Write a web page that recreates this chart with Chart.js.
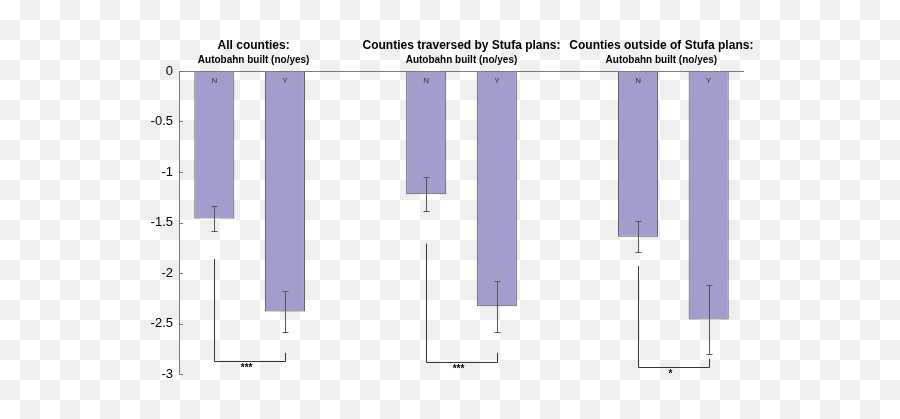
<!DOCTYPE html>
<html lang="en">
<head>
    <meta charset="UTF-8">
    <title>Autobahn built (no/yes)</title>
    <script src="https://cdn.jsdelivr.net/npm/chart.js"></script>
    <style>
        body {
            margin: 0;
            font-family: "Liberation Sans", Arial, sans-serif;
        }
        #wrap {
            width: 900px;
            height: 419px;
            background: conic-gradient(#efefef 0 25%, #fff 0 50%, #efefef 0 75%, #fff 0) 0 0 / 40px 40px;
        }
    </style>
</head>
<body>
    <div id="wrap">
        <canvas id="myChart" width="900" height="419"></canvas>
    </div>

    <script>
        // bars: N / Y per group, empty slots between groups
        const barLabels = ['N', 'Y', '', 'N', 'Y', '', 'N', 'Y'];
        const meanValues = [-1.46, -2.38, null, -1.22, -2.33, null, -1.64, -2.46];
        const errValues = [0.12, 0.2, null, 0.17, 0.25, null, 0.155, 0.34];

        const groupTitles = ['All counties:', 'Counties traversed by Stufa plans:', 'Counties outside of Stufa plans:'];
        const groupSubtitle = 'Autobahn built (no/yes)';

        // significance brackets (value where each line ends)
        const bracketLeftTop = [-1.86, -1.71, -1.93];
        const bracketRightTop = [-2.79, -2.79, -2.85];
        const bracketBottom = [-2.87, -2.88, -2.93];
        const sigLabels = ['***', '***', '*'];

        const yTickValues = [0, -0.5, -1, -1.5, -2, -2.5, -3];
        const yTickLabels = ['0', '-0.5', '-1', '-1.5', '-2', '-2.5', '-3'];

        const FONT = '"Liberation Sans", Arial, sans-serif';

        const overlay = {
            id: 'overlay',
            afterDatasetsDraw(chart) {
                const { ctx, chartArea, scales: { y } } = chart;
                const bars = chart.getDatasetMeta(0).data;
                ctx.save();

                // zero line + inward ticks
                ctx.strokeStyle = '#7a7a7a';
                ctx.lineWidth = 1;
                const y0 = Math.round(y.getPixelForValue(0)) + 0.5;
                ctx.beginPath();
                ctx.moveTo(chartArea.left, y0);
                ctx.lineTo(chartArea.right, y0);
                yTickValues.forEach(v => {
                    const py = Math.round(y.getPixelForValue(v)) + 0.5;
                    ctx.moveTo(chartArea.left, py);
                    ctx.lineTo(chartArea.left + 4, py);
                });
                ctx.stroke();

                // error bars
                ctx.strokeStyle = '#555';
                bars.forEach((bar, i) => {
                    if (meanValues[i] == null) return;
                    const cx = Math.round(bar.x) + 0.5;
                    const t = Math.round(y.getPixelForValue(meanValues[i] + errValues[i])) + 0.5;
                    const b = Math.round(y.getPixelForValue(meanValues[i] - errValues[i])) + 0.5;
                    ctx.beginPath();
                    ctx.moveTo(cx, t); ctx.lineTo(cx, b);
                    ctx.moveTo(cx - 3, t); ctx.lineTo(cx + 3, t);
                    ctx.moveTo(cx - 3, b); ctx.lineTo(cx + 3, b);
                    ctx.stroke();
                });

                // N / Y inside bars
                ctx.fillStyle = '#333';
                ctx.font = '8px ' + FONT;
                ctx.textAlign = 'center';
                ctx.textBaseline = 'middle';
                bars.forEach((bar, i) => {
                    if (meanValues[i] == null) return;
                    ctx.fillText(barLabels[i], bar.x, y.getPixelForValue(0) + 10);
                });

                // group titles + brackets
                const titleShift = [4, 0, -12];
                groupTitles.forEach((title, g) => {
                    const xl = bars[g * 3].x;
                    const xr = bars[g * 3 + 1].x;
                    const mid = (xl + xr) / 2;
                    ctx.fillStyle = '#000';
                    ctx.textAlign = 'center';
                    ctx.textBaseline = 'middle';
                    ctx.font = 'bold 12px ' + FONT;
                    ctx.fillText(title, mid + titleShift[g], 46);
                    ctx.font = 'bold 10px ' + FONT;
                    ctx.fillText(groupSubtitle, mid + titleShift[g], 60);

                    const lx = Math.round(xl) + 0.5;
                    const rx = Math.round(xr) + 0.5;
                    const by = Math.round(y.getPixelForValue(bracketBottom[g])) + 0.5;
                    ctx.strokeStyle = '#333';
                    ctx.beginPath();
                    ctx.moveTo(lx, y.getPixelForValue(bracketLeftTop[g]));
                    ctx.lineTo(lx, by);
                    ctx.lineTo(rx, by);
                    ctx.lineTo(rx, y.getPixelForValue(bracketRightTop[g]));
                    ctx.stroke();

                    ctx.font = 'bold 10px ' + FONT;
                    ctx.fillText(sigLabels[g], mid - 3, by + 7);
                });

                ctx.restore();
            }
        };

        const ctx = document.getElementById('myChart').getContext('2d');
        const myChart = new Chart(ctx, {
            type: 'bar',
            data: {
                labels: barLabels,
                datasets: [{
                    data: meanValues,
                    backgroundColor: '#a19ecd',
                    borderColor: '#555',
                    borderWidth: 1,
                    borderSkipped: false,
                    barPercentage: 0.567,
                    categoryPercentage: 1
                }]
            },
            options: {
                responsive: false,
                animation: false,
                devicePixelRatio: 1,
                layout: {
                    padding: { left: 0, right: 156, top: 71, bottom: 45 }
                },
                plugins: {
                    legend: { display: false },
                    tooltip: { enabled: false }
                },
                scales: {
                    x: { display: false },
                    y: {
                        min: -3,
                        max: 0,
                        afterFit: scale => { scale.width = 179; },
                        afterBuildTicks: scale => {
                            scale.ticks = yTickValues.map(v => ({ value: v }));
                        },
                        grid: { display: false, drawTicks: false },
                        border: { display: true, color: '#7a7a7a', width: 1 },
                        ticks: {
                            padding: 6,
                            color: '#000',
                            font: { family: FONT, size: 13 },
                            callback: (v) => yTickLabels[yTickValues.indexOf(v)]
                        }
                    }
                }
            },
            plugins: [overlay]
        });
    </script>
</body>
</html>
